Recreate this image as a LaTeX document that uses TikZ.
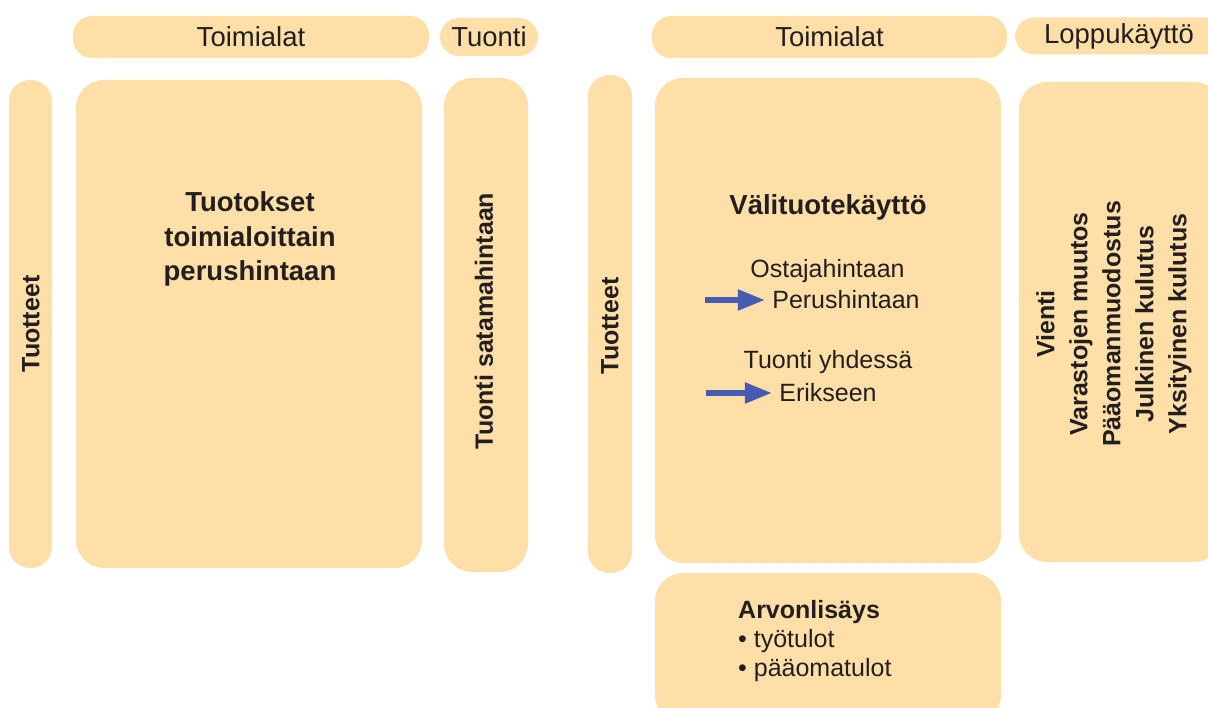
\documentclass[tikz,border=0pt]{standalone}
\usepackage{fontspec}
\setmainfont{Liberation Sans}
\usetikzlibrary{arrows.meta}

\definecolor{panelfill}{RGB}{254,223,168}
\definecolor{labeltext}{RGB}{35,31,32}
\definecolor{arrowblue}{RGB}{72,91,178}

\begin{document}
\begin{tikzpicture}[%
    x=1pt, y=-1pt,        % one unit = one pixel of the layout
    every node/.style={text=labeltext, font=\fontsize{25}{30}\selectfont},
    headnode/.style={fill=panelfill, rounded corners=19pt, inner sep=0pt,
                     font=\fontsize{27.5}{30}\selectfont},
    barnode/.style={fill=panelfill, rounded corners=21pt, inner sep=0pt},
    panelnode/.style={fill=panelfill, rounded corners=28pt, inner sep=0pt},
    boldlabel/.style={font=\bfseries\fontsize{27.5}{34.5}\selectfont, align=center},
    sidelabel/.style={font=\bfseries\fontsize{25}{33}\selectfont, rotate=90, align=center},
    shiftarrow/.style={draw=arrowblue, line width=5.5pt, shorten >=4pt,
                       -{Triangle[length=27pt, width=20pt]}},
    ]

\useasboundingbox (0,0) rectangle (1208,708);
\clip (0,0) rectangle (1208,708);

%==================================================
% Supply table
%==================================================
\node[headnode, minimum width=356pt, minimum height=42pt] (supHead) at (251,37)  {Toimialat};
\node[headnode, minimum width=98pt,  minimum height=38pt] (impHead) at (489,37)  {Tuonti};

\node[barnode,   minimum width=43pt,  minimum height=488pt] (supRows) at (30.5,324) {};
\node[panelnode, minimum width=346pt, minimum height=488pt] (supBox)  at (249,324)  {};
\node[panelnode, minimum width=84pt,  minimum height=494pt] (impBar)  at (486,325)  {};

\node[sidelabel] (supRowsTxt) at (31,324)  {Tuotteet};
\node[boldlabel] (supBoxTxt)  at (250,239) {Tuotokset\\toimialoittain\\perushintaan};
\node[sidelabel] (impBarTxt)  at (484,321) {Tuonti satamahintaan};

%==================================================
% Use table
%==================================================
\node[headnode, minimum width=355pt, minimum height=42pt] (useHead) at (829.5,37) {Toimialat};
\node[headnode, minimum width=208pt, minimum height=37pt] (finHead) at (1119,36) {Loppukäyttö};

\node[barnode,   minimum width=44pt,  minimum height=498pt] (useRows) at (610,324)   {};
\node[panelnode, minimum width=346pt, minimum height=485pt] (useBox)  at (828,320.5) {};
\node[panelnode, minimum width=203pt, minimum height=480pt] (finBox)  at (1120.5,322) {};
\node[panelnode, minimum width=346pt, minimum height=150pt] (vaBox)   at (828,648)   {};

\node[sidelabel] (useRowsTxt) at (610,326) {Tuotteet};
\node[boldlabel] (useBoxTxt)  at (828,207) {Välituotekäyttö};

\node (ostajaTxt) at (827.5,271) {Ostajahintaan};
\node (perusTxt)  at (846,300)   {Perushintaan};
\node (yhdessaTxt) at (828,362)  {Tuonti yhdessä};
\node (erikseenTxt) at (828,393) {Erikseen};

\node[sidelabel] (finBoxTxt) at (1114,324)
    {Vienti\\Varastojen muutos\\Pääomanmuodostus\\Julkinen kulutus\\Yksityinen kulutus};

\node[anchor=west, align=left, inner sep=0pt, font=\fontsize{25}{29}\selectfont] (vaTxt) at (738,641)
    {\textbf{Arvonlisäys}\\• työtulot\\• pääomatulot};

%==================================================
% Arrows
%==================================================
\coordinate (shiftA) at (705,300);
\coordinate (shiftB) at (706,393);

\draw[shiftarrow] (shiftA) -- (perusTxt.west);
\draw[shiftarrow] (shiftB) -- (erikseenTxt.west);

%==================================================
\end{tikzpicture}
\end{document}
